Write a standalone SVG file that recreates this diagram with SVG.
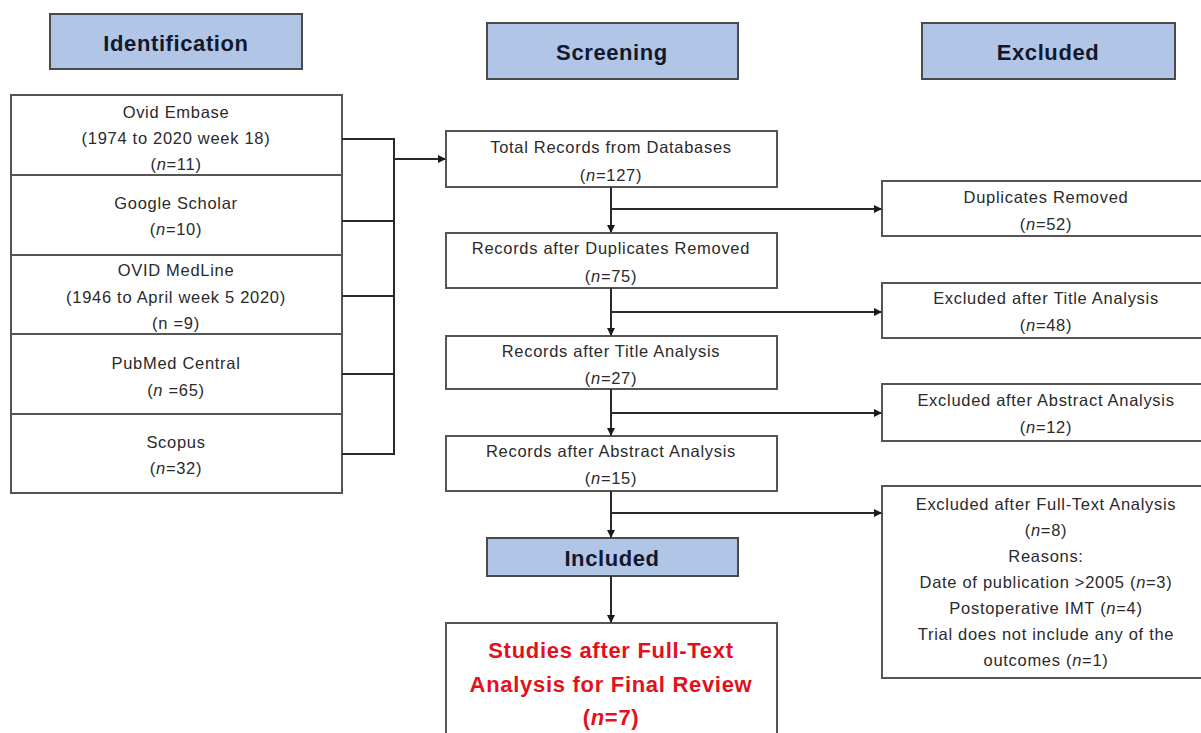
<svg xmlns="http://www.w3.org/2000/svg" width="1201" height="733" viewBox="0 0 1201 733">
<style>
  .hdr { fill: #b1c5e6; stroke: #4a4a4a; stroke-width: 2; }
  .box { fill: #ffffff; stroke: #555555; stroke-width: 2; }
  .ht { font-family: "Liberation Sans", Arial, sans-serif; font-weight: bold; font-size: 22px; letter-spacing: 0.6px; fill: #13182a; text-anchor: middle; dominant-baseline: central; }
  .t { font-family: "Liberation Sans", Arial, sans-serif; font-size: 16.5px; letter-spacing: 0.7px; fill: #2a2a2a; text-anchor: middle; dominant-baseline: central; }
  .red { font-family: "Liberation Sans", Arial, sans-serif; font-weight: bold; font-size: 22px; letter-spacing: 0.7px; fill: #e4101c; text-anchor: middle; dominant-baseline: central; }
  .i { font-style: italic; }
  .ln { fill: none; stroke: #2a2a2a; stroke-width: 2; }
</style>
<defs>
  <marker id="ah" markerWidth="8" markerHeight="8" refX="7" refY="4" orient="auto" markerUnits="userSpaceOnUse">
    <path d="M0,0 L8,4 L0,8 Z" fill="#1a1a1a"/>
  </marker>
</defs>
<rect width="1201" height="733" fill="#ffffff"/>

<g id="hdr-identification">
  <rect class="hdr" x="50" y="14" width="252" height="55"/>
  <text class="ht" x="176" y="43">Identification</text>
</g>
<g id="hdr-screening">
  <rect class="hdr" x="487" y="23" width="251" height="56"/>
  <text class="ht" x="612" y="52">Screening</text>
</g>
<g id="hdr-excluded">
  <rect class="hdr" x="922" y="23" width="253" height="56"/>
  <text class="ht" x="1048" y="52">Excluded</text>
</g>

<g id="src-embase">
  <rect class="box" x="11" y="95" width="331" height="80"/>
  <text class="t" x="176" y="112">Ovid Embase</text>
  <text class="t" x="176" y="138">(1974 to 2020 week 18)</text>
  <text class="t" x="176" y="164">(<tspan class="i">n</tspan>=11)</text>
</g>
<g id="src-scholar">
  <rect class="box" x="11" y="175" width="331" height="80"/>
  <text class="t" x="176" y="203">Google Scholar</text>
  <text class="t" x="176" y="229">(<tspan class="i">n</tspan>=10)</text>
</g>
<g id="src-medline">
  <rect class="box" x="11" y="255" width="331" height="79"/>
  <text class="t" x="176" y="270">OVID MedLine</text>
  <text class="t" x="176" y="297">(1946 to April week 5 2020)</text>
  <text class="t" x="176" y="323">(n =9)</text>
</g>
<g id="src-pubmed">
  <rect class="box" x="11" y="334" width="331" height="80"/>
  <text class="t" x="176" y="363">PubMed Central</text>
  <text class="t" x="176" y="390">(<tspan class="i">n</tspan> =65)</text>
</g>
<g id="src-scopus">
  <rect class="box" x="11" y="414" width="331" height="79"/>
  <text class="t" x="176" y="442">Scopus</text>
  <text class="t" x="176" y="468">(<tspan class="i">n</tspan>=32)</text>
</g>

<g id="total">
  <rect class="box" x="446" y="131" width="331" height="56"/>
  <text class="t" x="611" y="147">Total Records from Databases</text>
  <text class="t" x="611" y="175">(<tspan class="i">n</tspan>=127)</text>
</g>
<g id="after-dup">
  <rect class="box" x="446" y="233" width="331" height="55"/>
  <text class="t" x="611" y="248">Records after Duplicates Removed</text>
  <text class="t" x="611" y="276">(<tspan class="i">n</tspan>=75)</text>
</g>
<g id="after-title">
  <rect class="box" x="446" y="336" width="331" height="53"/>
  <text class="t" x="611" y="351">Records after Title Analysis</text>
  <text class="t" x="611" y="378">(<tspan class="i">n</tspan>=27)</text>
</g>
<g id="after-abstract">
  <rect class="box" x="446" y="436" width="331" height="55"/>
  <text class="t" x="611" y="451">Records after Abstract Analysis</text>
  <text class="t" x="611" y="478">(<tspan class="i">n</tspan>=15)</text>
</g>
<g id="hdr-included">
  <rect class="hdr" x="487" y="538" width="251" height="38"/>
  <text class="ht" x="612" y="558">Included</text>
</g>
<g id="final">
  <rect class="box" x="446" y="623" width="331" height="120"/>
  <text class="red" x="611" y="650">Studies after Full-Text</text>
  <text class="red" x="611" y="684">Analysis for Final Review</text>
  <text class="red" x="611" y="717">(<tspan class="i">n</tspan>=7)</text>
</g>

<g id="ex-dup">
  <rect class="box" x="882" y="181" width="340" height="55"/>
  <text class="t" x="1046" y="197">Duplicates Removed</text>
  <text class="t" x="1046" y="224">(<tspan class="i">n</tspan>=52)</text>
</g>
<g id="ex-title">
  <rect class="box" x="882" y="283" width="340" height="55"/>
  <text class="t" x="1046" y="298">Excluded after Title Analysis</text>
  <text class="t" x="1046" y="325">(<tspan class="i">n</tspan>=48)</text>
</g>
<g id="ex-abstract">
  <rect class="box" x="882" y="384" width="340" height="57"/>
  <text class="t" x="1046" y="400">Excluded after Abstract Analysis</text>
  <text class="t" x="1046" y="427">(<tspan class="i">n</tspan>=12)</text>
</g>
<g id="ex-fulltext">
  <rect class="box" x="882" y="486" width="340" height="192"/>
  <text class="t" x="1046" y="504">Excluded after Full-Text Analysis</text>
  <text class="t" x="1046" y="530">(<tspan class="i">n</tspan>=8)</text>
  <text class="t" x="1046" y="556">Reasons:</text>
  <text class="t" x="1046" y="582">Date of publication &gt;2005 (<tspan class="i">n</tspan>=3)</text>
  <text class="t" x="1046" y="608">Postoperative IMT (<tspan class="i">n</tspan>=4)</text>
  <text class="t" x="1046" y="634">Trial does not include any of the</text>
  <text class="t" x="1046" y="660">outcomes (<tspan class="i">n</tspan>=1)</text>
</g>

<g id="connectors">
  <path class="ln" d="M342,139 H394 M342,221 H394 M342,296 H394 M342,374 H394 M342,454 H394 M394,138 V455"/>
  <path class="ln" d="M394,159 H445" marker-end="url(#ah)"/>
  <path class="ln" d="M611,187 V232" marker-end="url(#ah)"/>
  <path class="ln" d="M611,209 H881" marker-end="url(#ah)"/>
  <path class="ln" d="M611,288 V335" marker-end="url(#ah)"/>
  <path class="ln" d="M611,312 H881" marker-end="url(#ah)"/>
  <path class="ln" d="M611,389 V435" marker-end="url(#ah)"/>
  <path class="ln" d="M611,413 H881" marker-end="url(#ah)"/>
  <path class="ln" d="M611,491 V537" marker-end="url(#ah)"/>
  <path class="ln" d="M611,513 H881" marker-end="url(#ah)"/>
  <path class="ln" d="M611,576 V622" marker-end="url(#ah)"/>
</g>
</svg>
